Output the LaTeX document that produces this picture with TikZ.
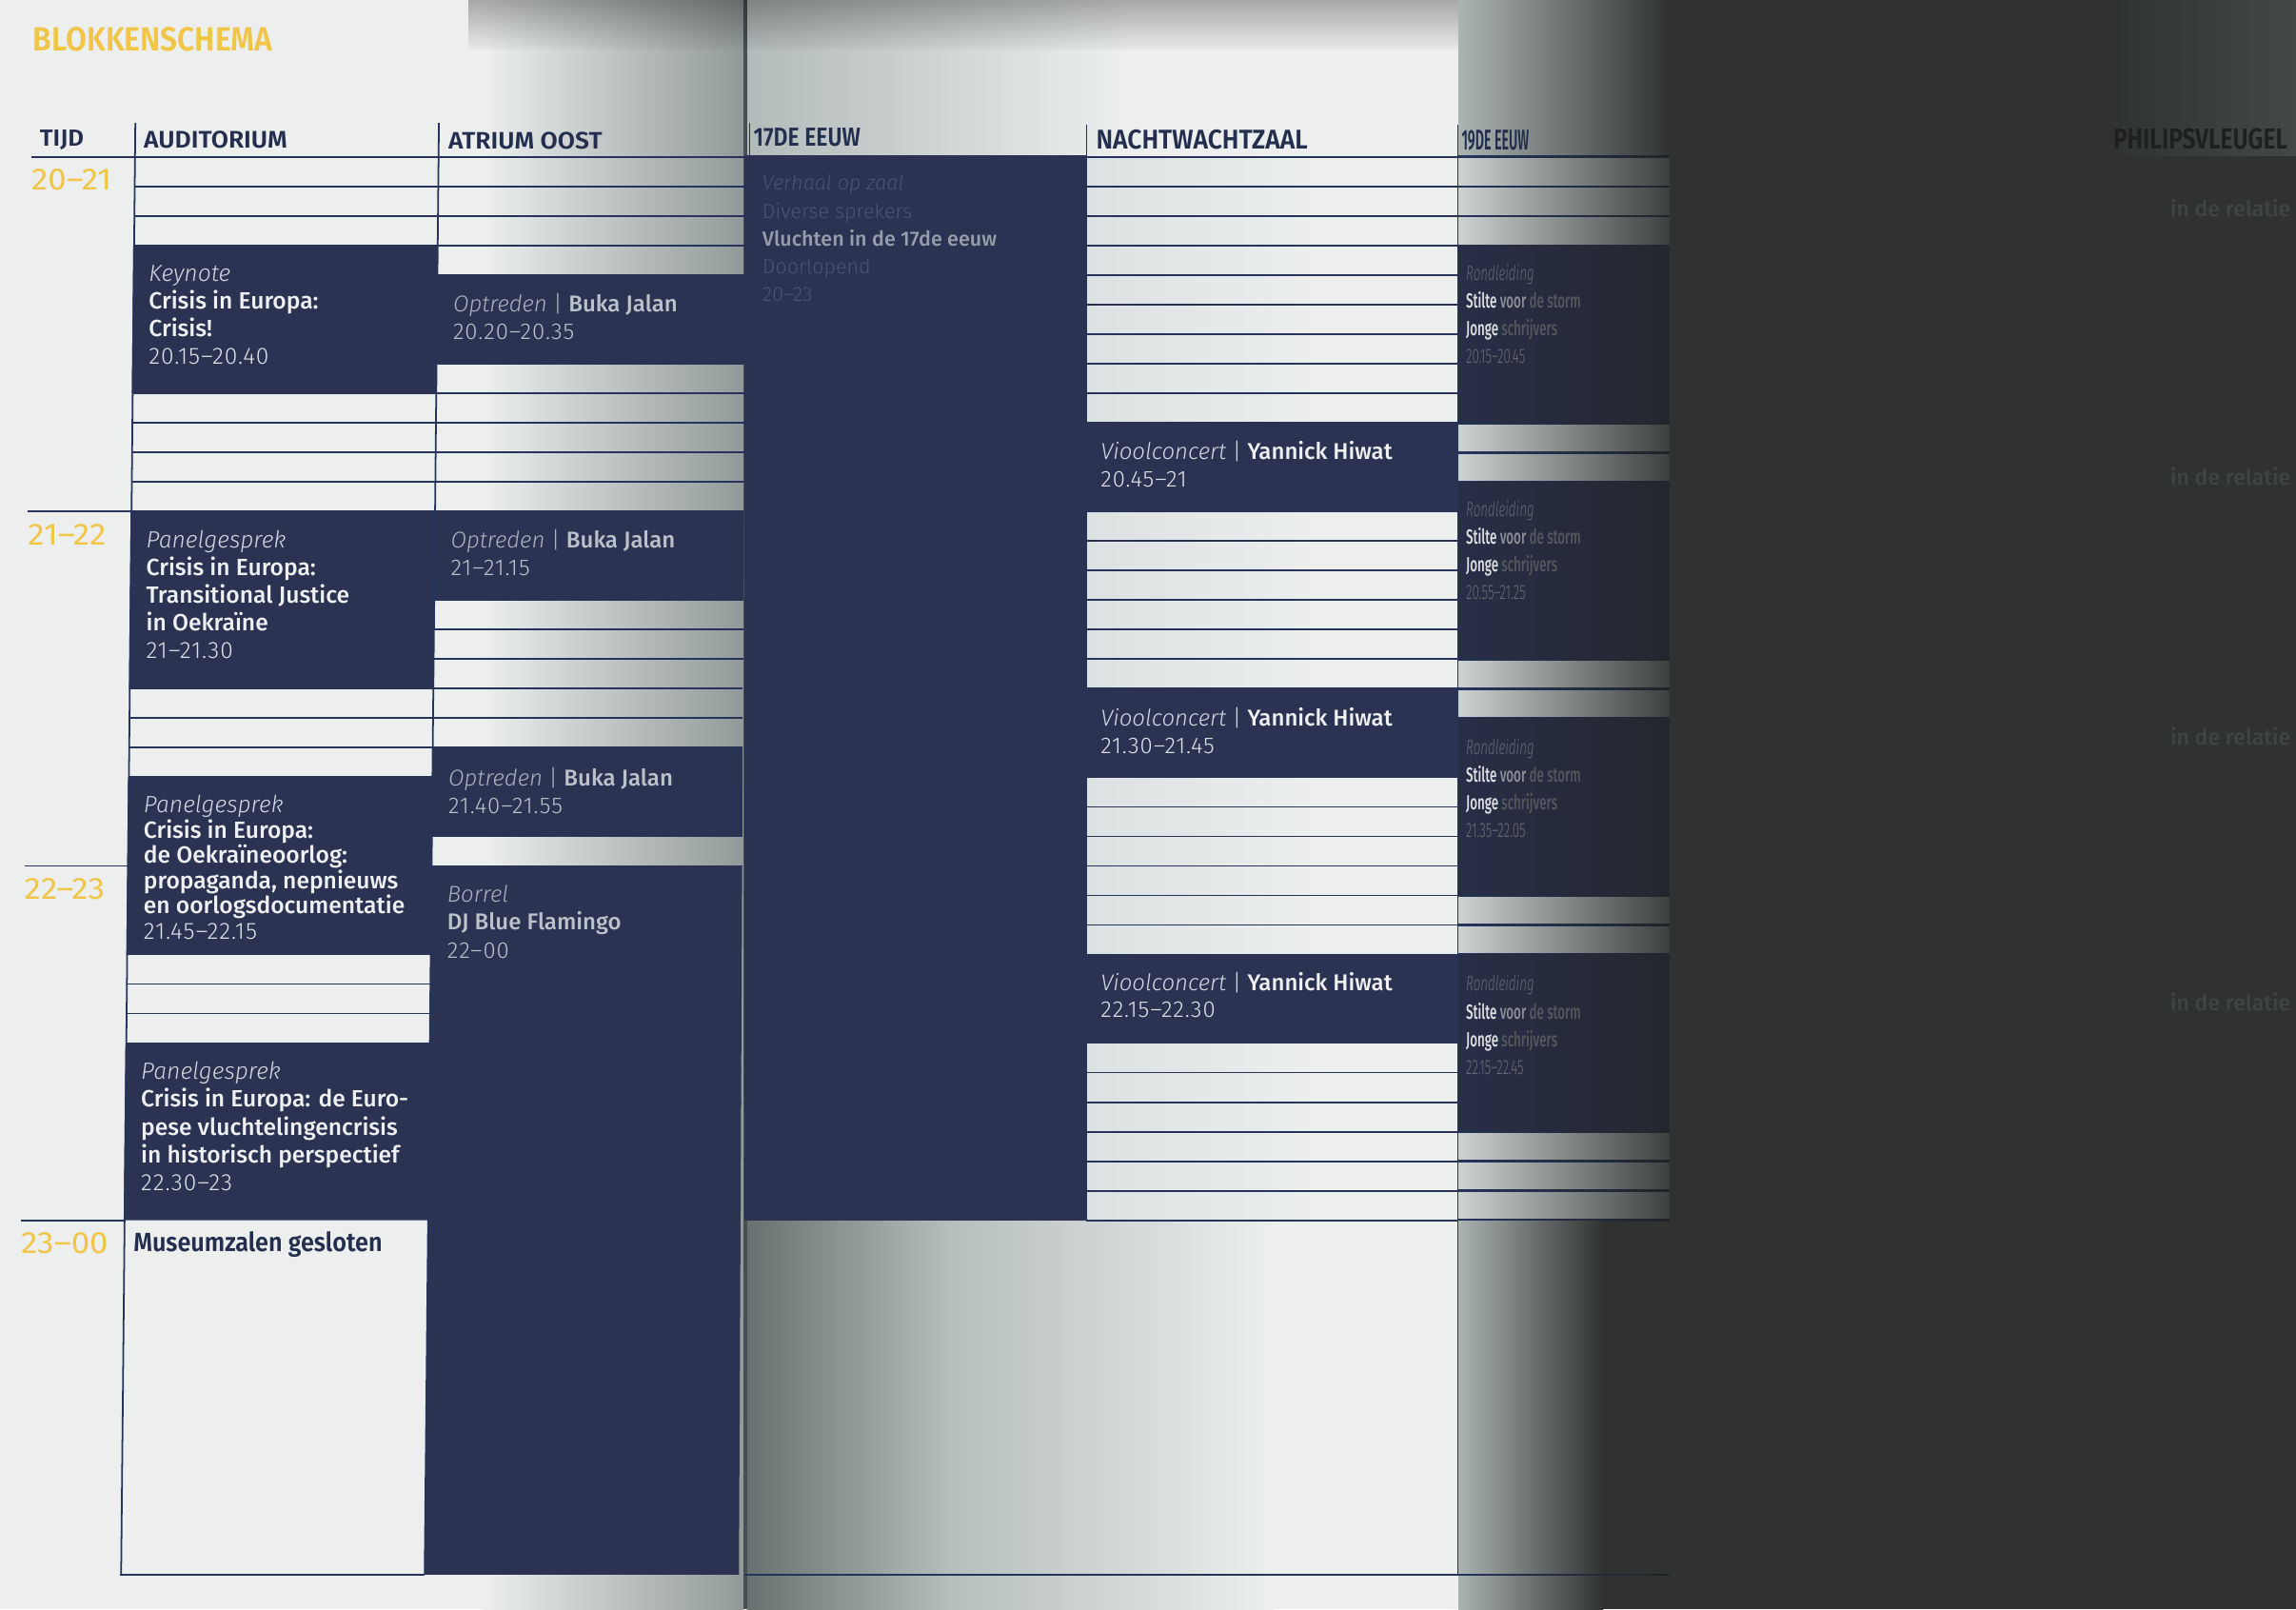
\documentclass[tikz,border=0pt]{standalone}
\usepackage{fontspec}
\usepackage{graphicx}
\setmainfont{Fira Sans}
\newfontfamily\fsl{Fira Sans Light}[ItalicFont={Fira Sans Light Italic}]
\newfontfamily\fslt{Fira Sans Light}[LetterSpace=4]
\newfontfamily\fsm{Fira Sans Medium}
\newfontfamily\fsb{Fira Sans SemiBold}
\usetikzlibrary{fadings}

\definecolor{paper}{RGB}{236,239,238}
\definecolor{navy}{RGB}{44,51,82}
\definecolor{rule}{RGB}{38,52,92}
\definecolor{hdr}{RGB}{36,46,78}
\definecolor{gold}{RGB}{240,197,72}
\definecolor{charc}{RGB}{48,50,50}
\definecolor{foldL}{RGB}{145,153,153}
\definecolor{gutter}{RGB}{72,78,84}
\definecolor{midTopA}{RGB}{178,186,186}
\definecolor{nwA}{RGB}{220,225,225}
\definecolor{midBotA}{RGB}{104,112,112}
\definecolor{midBotB}{RGB}{182,190,190}
\definecolor{txtA}{RGB}{238,240,242}
\definecolor{catc}{RGB}{212,216,226}
\definecolor{tmc}{RGB}{222,226,232}
\definecolor{atc}{RGB}{188,194,202}
\definecolor{atcat}{RGB}{172,178,190}
\definecolor{faint}{RGB}{74,84,112}
\definecolor{vlu}{RGB}{150,158,172}
\definecolor{dimtxt}{RGB}{64,68,68}
\definecolor{phil}{RGB}{30,32,32}
\definecolor{rTop}{RGB}{172,180,180}
\definecolor{rRow}{RGB}{205,211,211}
\definecolor{rRowR}{RGB}{60,64,64}
\definecolor{rBlkL}{RGB}{40,46,72}
\definecolor{rBlk}{RGB}{36,39,46}
\definecolor{rBot}{RGB}{170,178,178}
\definecolor{rLine}{RGB}{32,36,40}
\definecolor{rdCat}{RGB}{100,105,118}
\definecolor{rdA}{RGB}{222,225,228}
\definecolor{rdB}{RGB}{140,144,150}
\definecolor{rdC}{RGB}{84,88,94}
\definecolor{rdT}{RGB}{105,110,118}

\begin{tikzfadingfrompicture}[name=shadowT]
\shade[top color=transparent!68,bottom color=transparent!100] (0,0) rectangle (2,2);
\end{tikzfadingfrompicture}

\newcommand\cat[1]{{\fsl\itshape\color{catc}#1}}
\newcommand\ttl[1]{{\fsm\color{txtA}#1}}
\newcommand\tm[1]{{\fslt\color{tmc}#1}}
\newcommand\evbox[4]{\parbox[t]{#1pt}{\fontsize{#2}{#3}\selectfont\leavevmode #4}}
\newcommand\hbx[3]{\resizebox{#1pt}{#2pt}{\fsb #3}}
\newcommand\atblk[2]{\fill[navy] (299.5,{ty(#1)}) -- ({trx(ty(#1))},{ty(#1)}) -- ({trx(ty(#2))},{ty(#2)}) -- (299.5,{ty(#2)}) -- cycle;}

\begin{document}
\begin{tikzpicture}[x=1pt,y=-1pt,
  declare function={ty(\q)=107.2+4.03333*\q; trx(\w)=509+0.0053*(\w-107.2);},
  ln/.style={draw=rule,line width=1.15pt},
  hd/.style={anchor=base west,inner sep=0pt,text=hdr},
  ev/.style={anchor=base west,inner sep=0pt,text=txtA}]
\useasboundingbox (0,0) rectangle (1568,1098.65);
% ---------- paper and scan shadows
\fill[paper] (0,0) rectangle (1568,1098.65);
\shade[left color=paper,right color=foldL] (330,0) rectangle (508,1098.65);
\shade[left color=midTopA,right color=paper] (510,0) rectangle (770,107);
\shade[left color=nwA,right color=paper] (742,107) rectangle (900,833.2);
\shade[left color=midBotA,right color=midBotB] (510,833.2) rectangle (650,1098.65);
\shade[left color=midBotB,right color=paper] (650,833.2) rectangle (870,1098.65);
\fill[gutter] (507.5,0) rectangle (510.5,1098.65);
\fill[black,path fading=shadowT] (320,-1) rectangle (997,34);

% ---------- title
\node[hd,text=gold] (title) at (22.5,34.8) {\hbx{163.5}{16.2}{BLOKKENSCHEMA}};

% ---------- left page (slightly slanted, as scanned)
\begin{scope}[shift={(1.05,0)},xslant=0.0098]
  \foreach \t in {5,10,...,175} \draw[ln] (92.2,{ty(\t)}) -- ({trx(ty(\t))},{ty(\t)});
  \draw[ln] (21.5,107.2) -- (509,107.2);
  \foreach \t in {60,120,180} \draw[ln] (21.5,{ty(\t)}) -- (92.2,{ty(\t)});
  % auditorium blocks
  \fill[navy] (91.6,{ty(15)}) rectangle (299.5,{ty(40)});
  \fill[navy] (91.6,{ty(60)}) rectangle (299.5,{ty(90)});
  \fill[navy] (91.6,{ty(105)}) rectangle (299.5,{ty(135)});
  \fill[navy] (91.6,{ty(150)}) rectangle (299.5,{ty(180)});
  % atrium blocks
  \atblk{20}{35}
  \atblk{60}{75}
  \atblk{100}{115}
  \atblk{120}{240}
  % verticals and box
  \draw[ln] (92.2,84) -- (92.2,1075.8);
  \draw[ln] (299.5,84) -- (299.5,1075.2);
  \draw[ln] (91.6,1075.2) -- (299.5,1075.2);
  % headers
  \node[hd] (tijd) at (27,100) {\hbx{30}{11}{TIJD}};
  \node[hd] (aud) at (98,101) {\hbx{98}{11.6}{AUDITORIUM}};
  \node[hd] (atr) at (306,102) {\hbx{105}{11.5}{ATRIUM OOST}};
  % hours
  \node[hd,text=gold] (h20) at (21.5,129.8) {\scalebox{1.08}[1]{\fontsize{21}{21}\selectfont 20–21}};
  \node[hd,text=gold] (h21) at (21.5,372.2) {\scalebox{1.08}[1]{\fontsize{21}{21}\selectfont 21–22}};
  \node[hd,text=gold] (h22) at (21.5,614.2) {\scalebox{1.08}[1]{\fontsize{21}{21}\selectfont 22–23}};
  \node[hd,text=gold] (h23) at (21.5,856.0) {\scalebox{1.08}[1]{\fontsize{21}{21}\selectfont 23–00}};
  % auditorium events
  \node[ev] (kn) at (102.3,192.2) {\evbox{200}{16}{18.8}{\cat{Keynote}\\\ttl{Crisis in Europa:}\\\ttl{Crisis!}\\\tm{20.15–20.40}}};
  \node[ev] (pg1) at (102.3,373.8) {\evbox{200}{16}{18.9}{\cat{Panelgesprek}\\\ttl{Crisis in Europa:}\\\ttl{Transitional Justice}\\\ttl{in Oekraïne}\\\tm{21–21.30}}};
  \node[ev] (pg2) at (102.3,555) {\evbox{210}{16}{17.2}{\cat{Panelgesprek}\\\ttl{Crisis in Europa:}\\\ttl{de Oekraïneoorlog:}\\\ttl{propaganda, nepnieuws}\\\ttl{en oorlogsdocumentatie}\\\tm{21.45–22.15}}};
  \node[ev] (pg3) at (102.3,737) {\evbox{210}{16}{19}{\cat{Panelgesprek}\\\ttl{Crisis in Europa: de Euro-}\\\ttl{pese vluchtelingencrisis}\\\ttl{in historisch perspectief}\\\tm{22.30–23}}};
  \node[hd] (mz) at (98.3,854.6) {\scalebox{0.91}[1]{\fontsize{18}{18}\selectfont\fsb Museumzalen gesloten}};
  % atrium events
  \node[ev,text=atc] (op1) at (310.3,213) {\evbox{200}{15.6}{19}{{\fsl\itshape\color{atcat}Optreden} {\fsl\color{atcat}|} {\fsm Buka Jalan}\\{\fslt 20.20–20.35}}};
  \node[ev,text=atc] (op2) at (310.3,374) {\evbox{200}{15.6}{19}{{\fsl\itshape\color{atcat}Optreden} {\fsl\color{atcat}|} {\fsm Buka Jalan}\\{\fslt 21–21.15}}};
  \node[ev,text=atc] (op3) at (310.3,536.6) {\evbox{200}{15.6}{19}{{\fsl\itshape\color{atcat}Optreden} {\fsl\color{atcat}|} {\fsm Buka Jalan}\\{\fslt 21.40–21.55}}};
  \node[ev,text=atc] (bo) at (310.3,616.1) {\evbox{200}{15.6}{19}{{\fsl\itshape\color{atcat}Borrel}\\{\fsm DJ Blue Flamingo}\\{\fslt 22–00}}};
\end{scope}

% ---------- middle page
\draw[ln] (512,84) -- (512,106);
\fill[navy] (508.5,105.8) rectangle (742,833.2);
\foreach \t in {5,10,...,175} \draw[ln] (742,{ty(\t)}) -- (995.6,{ty(\t)});
\draw[ln] (742,107.2) -- (996,107.2);
\draw[ln] (742,833.2) -- (996,833.2);
\fill[navy] (742,{ty(45)}) rectangle (995.6,{ty(60)});
\fill[navy] (742,{ty(90)}) rectangle (995.6,{ty(105)});
\fill[navy] (742,{ty(135)}) rectangle (995.6,{ty(150)});
\draw[ln] (742,85) -- (742,833.2);
\draw[ln] (508.5,1075.2) -- (996,1075.2);
\node[hd] (e17) at (514.4,100.1) {\hbx{73}{12.3}{17DE EEUW}};
\node[hd] (nwz) at (748.4,101.9) {\hbx{144.5}{13.1}{NACHTWACHTZAAL}};
\node[ev] (ee) at (520.5,130) {\evbox{220}{14}{18.9}{{\fsl\itshape\color{faint}Verhaal op zaal}\\{\fsl\color{faint}Diverse sprekers}\\{\fsm\color{vlu}Vluchten in de 17de eeuw}\\{\fsl\color{faint}Doorlopend}\\{\fsl\color{faint}20–23}}};
\node[ev] (vc1) at (751.5,313.9) {\evbox{240}{15.6}{18.3}{\cat{Vioolconcert} {\fsl\color{catc}|} \ttl{Yannick Hiwat}\\\tm{20.45–21}}};
\node[ev] (vc2) at (751.5,496) {\evbox{240}{15.6}{18.3}{\cat{Vioolconcert} {\fsl\color{catc}|} \ttl{Yannick Hiwat}\\\tm{21.30–21.45}}};
\node[ev] (vc3) at (751.5,676.6) {\evbox{240}{15.6}{18.3}{\cat{Vioolconcert} {\fsl\color{catc}|} \ttl{Yannick Hiwat}\\\tm{22.15–22.30}}};

% ---------- dark right-hand part of the scan
\fill[charc] (1095,0) rectangle (1568,1098.65);
\shade[left color=charc,right color={rgb,255:red,66;green,72;blue,72}] (1440,0) rectangle (1568,106);
\shade[left color=rTop,right color=charc] (996,0) rectangle (1140,107.2);
\foreach \a/\b in {0/15,45/55,85/95,125/135,165/180}
  \shade[left color=rRow,right color=rRowR] (996,{ty(\a)}) rectangle (1140,{ty(\b)});
\foreach \t in {0,5,...,180}
  \shade[left color=rule,right color=rLine] (996,{ty(\t)-0.6}) rectangle (1140,{ty(\t)+0.6});
\foreach \a/\b in {15/45,55/85,95/125,135/165}
  \shade[left color=rBlkL,right color=rBlk] (996,{ty(\a)}) rectangle (1140,{ty(\b)});
\shade[left color=rBot,right color=charc] (996,833.8) rectangle (1095,1098.65);
\shade[left color=rule,right color=rLine] (996,1074.6) rectangle (1140,1075.8);
\draw[ln] (995.6,85) -- (995.6,1076);
\node[hd] (e19) at (998,102.7) {\hbx{46}{13.5}{19DE EEUW}};
\foreach \n/\y/\tt in {1/191.3/20.15–20.45, 2/352.4/20.55–21.25, 3/514.9/21.35–22.05, 4/676.7/22.15–22.45}
  \node[ev] (rd\n) at (1001,\y) {\scalebox{0.62}[1]{\parbox[t]{220pt}{\fontsize{14}{19}\selectfont\leavevmode {\fsl\itshape\color{rdCat}Rondleiding}\\{\fsm\color{rdA}Stilte \color{rdB}voor \color{rdC}de storm}\\{\fsm\color{rdA}Jonge \color{rdC}schrijvers}\\{\fsl\color{rdT}\tt}}}};
\node[hd,text=phil] (phv) at (1443,102) {\hbx{119}{14}{PHILIPSVLEUGEL}};
\foreach \n/\y in {1/148,2/331,3/509,4/690}
  \node[hd,text=dimtxt] (rel\n) at (1482,\y) {\fontsize{15}{15}\selectfont\fsm in de relatie};
\end{tikzpicture}
\end{document}
